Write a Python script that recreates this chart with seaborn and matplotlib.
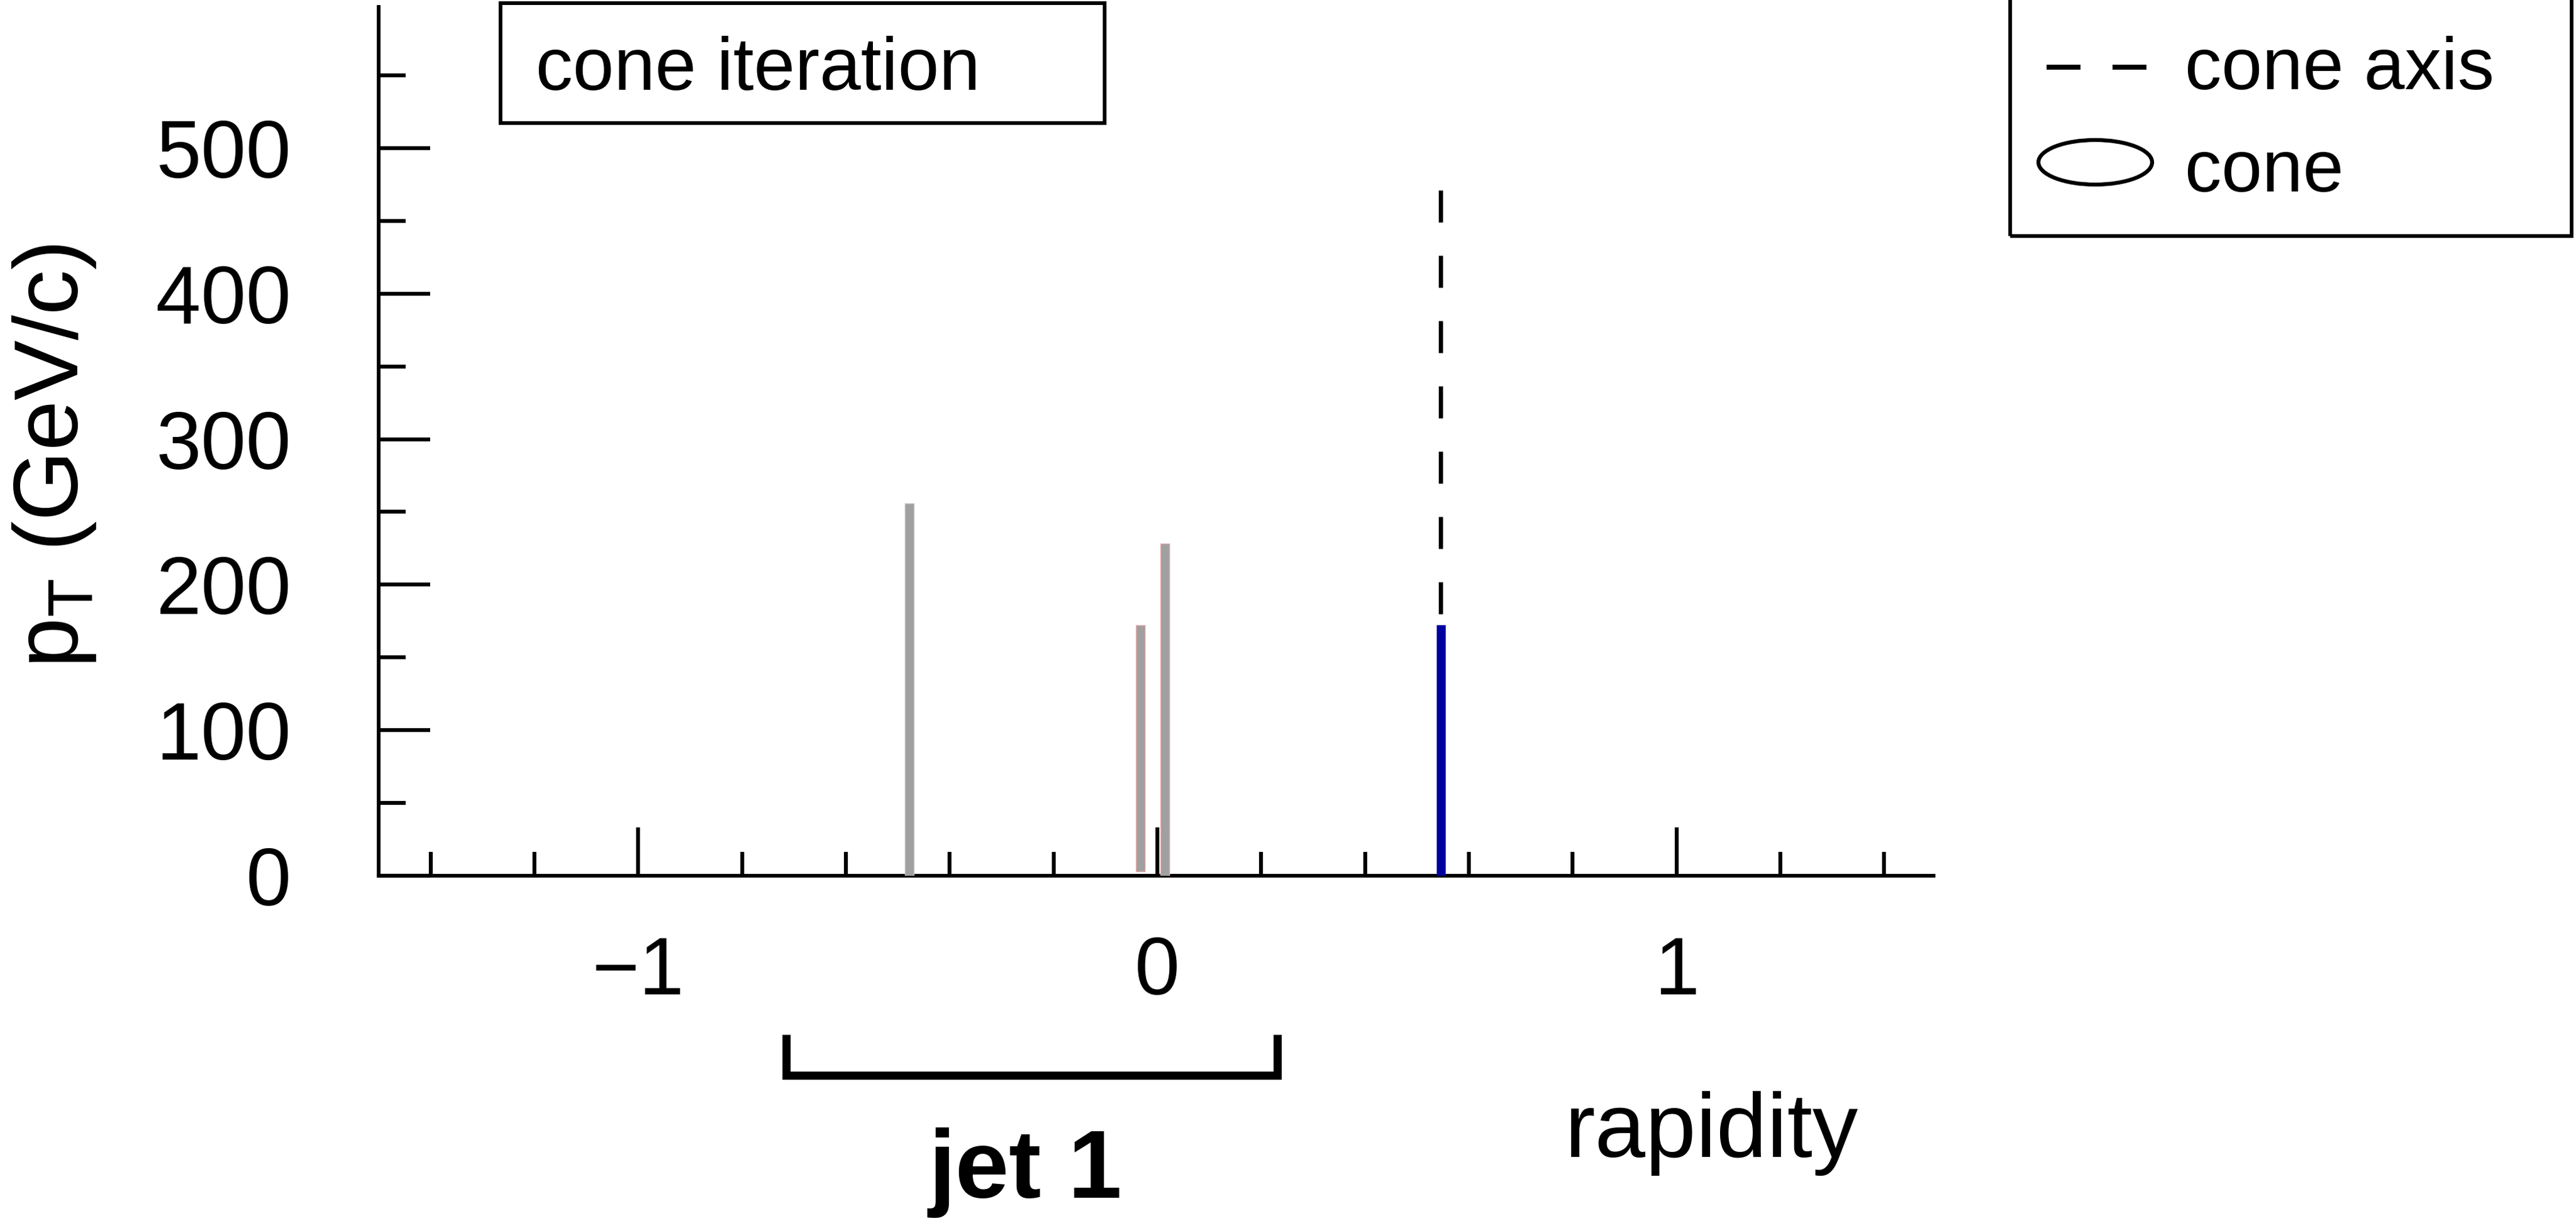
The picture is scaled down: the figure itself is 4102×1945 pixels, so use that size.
import numpy as np
import pandas as pd
import matplotlib
matplotlib.use("Agg")
import matplotlib.pyplot as plt
import matplotlib.transforms as mtransforms
from matplotlib.patches import Rectangle, Ellipse
from matplotlib.lines import Line2D
import seaborn as sns

# ---------------- data ----------------
rapidity = [-0.478, -0.0327, 0.0145, 0.5457]
pt_top = [256, 172, 228, 172]
pt_bottom = [0, 3, 0, 0]
bar_colors = ["#A0A0A0", "#A0A0A0", "#A0A0A0", "#0000A0"]
bar_edges = ["#BDBDBD", "#E3A3A3", "#E3A3A3", "#0000A0"]

cone_axis_rapidity = 0.5457
cone_axis_pt = [471, 172]          # drawn top -> bottom

jet1_range = [-0.7155, 0.231]
jet_label = "jet 1"

xticks_major = [-1, 0, 1]
xtick_labels = ["\u22121", "0", "1"]
xticks_minor = [-1.4, -1.2, -0.8, -0.6, -0.4, -0.2, 0.2, 0.4, 0.6, 0.8, 1.2, 1.4]
yticks_major = [0, 100, 200, 300, 400, 500]
ytick_labels = ["0", "100", "200", "300", "400", "500"]
yticks_minor = [50, 150, 250, 350, 450, 550]
xlim = (-1.5, 1.495)
ylim = (0, 597)

title_box_text = "cone iteration"
legend_labels = ["cone axis", "cone"]

# ---------------- style ----------------
sns.set_theme(style="ticks", rc={
    "axes.edgecolor": "black", "xtick.color": "black", "ytick.color": "black",
    "text.color": "black", "axes.labelcolor": "black",
})
plt.rcParams["font.family"] = ["Liberation Sans", "DejaVu Sans"]
plt.rcParams["axes.unicode_minus"] = True

W, H, DPI = 4102, 1945, 300
PX = 72.0 / DPI  # points per pixel

fig = plt.figure(figsize=(W / DPI, H / DPI), dpi=DPI)
fig.patch.set_facecolor("white")
ax = fig.add_axes([603 / W, 1 - 1395 / H, (3079 - 603) / W, (1395 - 11) / H])
ax.set_facecolor("white")

# ---------------- bars ----------------
bar_width = 0.0162
for x, top, bot, fc, ec in zip(rapidity, pt_top, pt_bottom, bar_colors, bar_edges):
    sns.barplot(x=[x], y=[top - bot], native_scale=True, width=bar_width,
                bottom=bot, color=fc, saturation=1, edgecolor=ec,
                linewidth=0.35, errorbar=None, ax=ax, zorder=3)

# cone axis (dashed)
lw_axis = 1.6
sns.lineplot(x=[cone_axis_rapidity] * len(cone_axis_pt), y=cone_axis_pt,
             orient="y", sort=False, estimator=None, color="black",
             linewidth=lw_axis,
             linestyle=(0, (51 * PX / lw_axis, 53 * PX / lw_axis)),
             ax=ax, zorder=4)

# ---------------- axes ----------------
ax.set_xlim(*xlim)
ax.set_ylim(*ylim)
ax.set_xticks(xticks_major)
ax.set_xticklabels(xtick_labels)
ax.set_xticks(xticks_minor, minor=True)
ax.set_yticks(yticks_major)
ax.set_yticklabels(ytick_labels)
ax.set_yticks(yticks_minor, minor=True)

for side in ["top", "right"]:
    ax.spines[side].set_visible(False)
for side in ["left", "bottom"]:
    ax.spines[side].set_linewidth(1.4)
    ax.spines[side].set_color("black")

ax.tick_params(axis="x", which="major", direction="in", length=18.5, width=1.5,
               labelsize=31, pad=22.7)
ax.tick_params(axis="x", which="minor", direction="in", length=9.2, width=1.5)
ax.tick_params(axis="y", which="major", direction="in", length=19.7, width=1.5,
               labelsize=31, pad=33.4)
ax.tick_params(axis="y", which="minor", direction="in", length=10.3, width=1.5)
ax.grid(False)

ax.set_xlabel("rapidity", fontsize=34.8)
ax.xaxis.set_label_coords(0.857, -0.3237)
ax.xaxis.label.set_va("baseline")

ax.set_ylabel(r"p$_\mathregular{T}$ (GeV/c)", fontsize=34.5)
ax.yaxis.set_label_coords(-0.2088, 0.483)
ax.yaxis.label.set_va("center")

# jet bracket
blend = mtransforms.blended_transform_factory(ax.transData, ax.transAxes)
y_leg = (1395 - 1648) / 1384
y_bar = (1395 - 1713) / 1384
ax.add_line(Line2D([jet1_range[0], jet1_range[0], jet1_range[1], jet1_range[1]],
                   [y_leg, y_bar, y_bar, y_leg], transform=blend, color="black",
                   lw=3.1, solid_joinstyle="miter", solid_capstyle="butt",
                   clip_on=False))
ax.text(np.mean(jet1_range) - 0.012, (1395 - 1908) / 1384, jet_label,
        transform=blend, ha="center", va="baseline", fontsize=37,
        fontweight="bold", clip_on=False)

# ---------------- "cone iteration" box ----------------
fig.add_artist(Rectangle((797 / W, 1 - 196 / H), (1759 - 797) / W, (196 - 5) / H,
                         transform=fig.transFigure, fill=False, ec="black",
                         lw=1.4, clip_on=False))
fig.text(853 / W, 1 - 143 / H, title_box_text, ha="left", va="baseline",
         fontsize=28.3)

# ---------------- legend box ----------------
fig.add_artist(Rectangle((3201 / W, 1 - 376 / H), (4095 - 3201) / W, (376 + 4) / H,
                         transform=fig.transFigure, fill=False, ec="black",
                         lw=1.4, clip_on=False))
lw_leg = 1.9
fig.add_artist(Line2D([3259 / W, 3418 / W], [1 - 107 / H, 1 - 107 / H],
                      transform=fig.transFigure, color="black", lw=lw_leg,
                      linestyle=(0, (54 * PX / lw_leg, 51 * PX / lw_leg))))
fig.add_artist(Ellipse((3336.5 / W, 1 - 258.5 / H), 181 / W, 71 / H,
                       transform=fig.transFigure, fill=False, ec="black", lw=1.5))
fig.text(3479 / W, 1 - 142 / H, legend_labels[0], ha="left", va="baseline",
         fontsize=28)
fig.text(3479 / W, 1 - 305 / H, legend_labels[1], ha="left", va="baseline",
         fontsize=28)

fig.savefig("out.png", dpi=DPI, facecolor="white")
